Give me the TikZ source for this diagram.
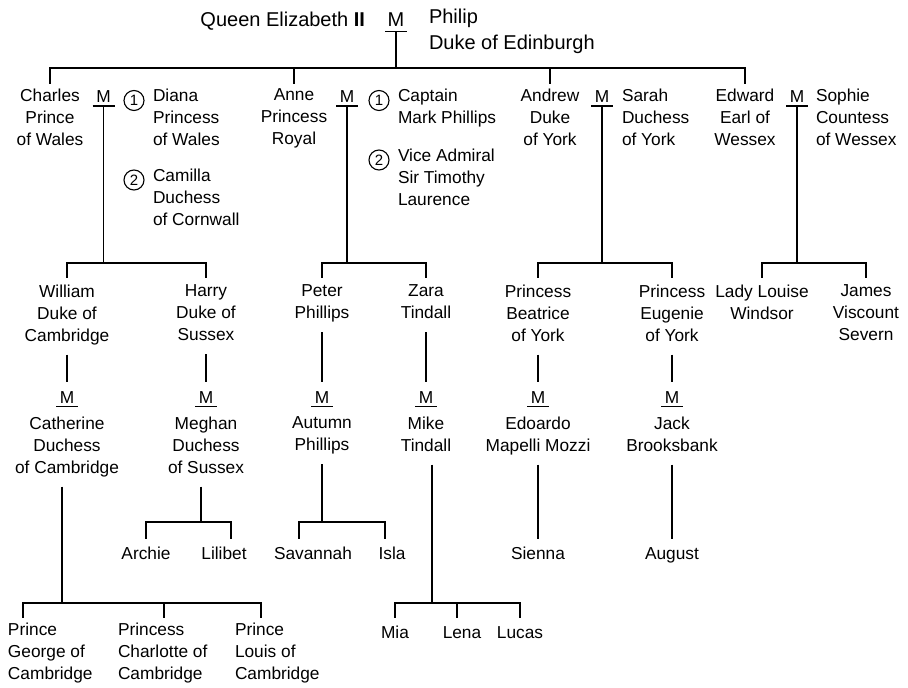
\documentclass[tikz,border=0pt]{standalone}
\usepackage{fontspec}
\setmainfont{Liberation Sans}
\begin{document}
\begin{tikzpicture}[x=1pt,y=-1pt,
  every node/.style={font=\fontsize{17.3}{22}\selectfont, inner sep=0pt, outer sep=0pt},
  topfont/.style={font=\fontsize{20}{26}\selectfont},
  person/.style={align=center, anchor=north, yshift=15.4pt, execute at begin node=\strut, execute at end node=\strut},
  lperson/.style={align=left, anchor=north west, yshift=15.4pt, execute at begin node=\strut, execute at end node=\strut},
  mnode/.style={anchor=base},
  circnum/.style={draw, circle, line width=1.1pt, minimum size=20pt, font=\fontsize{15}{15}\selectfont},
  conn/.style={line width=1.8pt},
  uline/.style={line width=1.5pt},
]
\useasboundingbox (0,0) rectangle (908,688);

% ---------- generation 1
\node[topfont, anchor=base east] (queen) at (365,27) {Queen Elizabeth \textbf{II}};
\node[topfont, mnode] (m0) at (396,27) {M};
\node[topfont, align=left, anchor=north west, yshift=18.2pt, execute at begin node=\strut] (philip) at (429,27) {Philip\\Duke of Edinburgh};

% ---------- generation 2
\node[person] (charles) at (50,104) {Charles\\Prince\\of Wales};
\node[mnode] (m1) at (103.5,102.5) {M};
\node[circnum] (c1a) at (134,100.5) {1};
\node[lperson] (diana) at (153,104) {Diana\\Princess\\of Wales};
\node[circnum] (c1b) at (134,180) {2};
\node[lperson] (camilla) at (153,184) {Camilla\\Duchess\\of Cornwall};

\node[person] (anne) at (294,104) {Anne\\Princess\\Royal};
\node[mnode] (m2) at (347,102.5) {M};
\node[circnum] (c2a) at (379,100.5) {1};
\node[lperson] (mark) at (398,104) {Captain\\Mark Phillips};
\node[circnum] (c2b) at (379,160) {2};
\node[lperson] (tim) at (398,164) {Vice Admiral\\Sir Timothy\\Laurence};

\node[person] (andrew) at (550,104) {Andrew\\Duke\\of York};
\node[mnode] (m3) at (602,102.5) {M};
\node[lperson] (sarah) at (622,104) {Sarah\\Duchess\\of York};

\node[person] (edward) at (745,104) {Edward\\Earl of\\Wessex};
\node[mnode] (m4) at (797,102.5) {M};
\node[lperson] (sophie) at (816,104) {Sophie\\Countess\\of Wessex};

% ---------- generation 3
\node[person] (william) at (67,300) {William\\Duke of\\Cambridge};
\node[person] (harry) at (206,300) {Harry\\Duke of\\Sussex};
\node[person] (peter) at (322,300) {Peter\\Phillips};
\node[person] (zara) at (426,300) {Zara\\Tindall};
\node[person] (beatrice) at (538,300) {Princess\\Beatrice\\of York};
\node[person] (eugenie) at (672,300) {Princess\\Eugenie\\of York};
\node[person] (louise) at (762,300) {Lady Louise\\Windsor};
\node[person] (james) at (866,300) {James\\Viscount\\Severn};

\node[mnode] (ma) at (67,403) {M};
\node[mnode] (mb) at (206,403) {M};
\node[mnode] (mc) at (322,403) {M};
\node[mnode] (md) at (426,403) {M};
\node[mnode] (me) at (538,403) {M};
\node[mnode] (mf) at (672,403) {M};

\node[person] (catherine) at (67,432) {Catherine\\Duchess\\of Cambridge};
\node[person] (meghan) at (206,432) {Meghan\\Duchess\\of Sussex};
\node[person] (autumn) at (322,432) {Autumn\\Phillips};
\node[person] (mike) at (426,432) {Mike\\Tindall};
\node[person] (edoardo) at (538,432) {Edoardo\\Mapelli Mozzi};
\node[person] (jack) at (672,432) {Jack\\Brooksbank};

% ---------- generation 4
\node[lperson] (george) at (8,638) {Prince\\George of\\Cambridge};
\node[lperson] (charlotte) at (118,638) {Princess\\Charlotte of\\Cambridge};
\node[lperson] (louis) at (235,638) {Prince\\Louis of\\Cambridge};
\node[person] (archie) at (146,559) {Archie};
\node[person] (lilibet) at (224,559) {Lilibet};
\node[person] (savannah) at (313,559) {Savannah};
\node[person] (isla) at (392,559) {Isla};
\node[person] (mia) at (395,638) {Mia};
\node[person] (lena) at (462,638) {Lena};
\node[person] (lucas) at (520,638) {Lucas};
\node[person] (sienna) at (538,559) {Sienna};
\node[person] (august) at (672,559) {August};

% ---------- underlines of M
\draw[uline] ([xshift=-11pt,yshift=-4.5pt]m0.base) -- ([xshift=11pt,yshift=-4.5pt]m0.base);
\foreach \m in {m1,m2,m3,m4,ma,mb,mc,md,me,mf}
  \draw[uline] ([xshift=-11pt,yshift=-3.5pt]\m.base) -- ([xshift=11pt,yshift=-3.5pt]\m.base);

% ---------- connectors gen1 -> gen2
\coordinate (j0) at (396,68);
\draw[conn] ([yshift=-4.5pt]m0.base) -- (j0);
\draw[conn] ([yshift=5pt]charles.north) -- (charles.north |- j0) -- (edward.north |- j0) -- ([yshift=5pt]edward.north);
\draw[conn] ([yshift=5pt]anne.north) -- (anne.north |- j0);
\draw[conn] ([yshift=5pt]andrew.north) -- (andrew.north |- j0);

% ---------- gen2 -> gen3
\coordinate (j1) at (103.5,263);
\coordinate (j2) at (347,263);
\coordinate (j3) at (602,263);
\coordinate (j4) at (797,263);
\draw[conn] ([yshift=-3.5pt]m1.base) -- (j1);
\draw[conn] ([yshift=-3.5pt]m2.base) -- (j2);
\draw[conn] ([yshift=-3.5pt]m3.base) -- (j3);
\draw[conn] ([yshift=-3.5pt]m4.base) -- (j4);
\draw[conn] ([yshift=7pt]william.north) -- (william.north |- j1) -- (harry.north |- j1) -- ([yshift=7pt]harry.north);
\draw[conn] ([yshift=7pt]peter.north) -- (peter.north |- j2) -- (zara.north |- j2) -- ([yshift=7pt]zara.north);
\draw[conn] ([yshift=7pt]beatrice.north) -- (beatrice.north |- j3) -- (eugenie.north |- j3) -- ([yshift=7pt]eugenie.north);
\draw[conn] ([yshift=7pt]louise.north) -- (louise.north |- j4) -- (james.north |- j4) -- ([yshift=7pt]james.north);

% ---------- gen3 -> M
\draw[conn] ([yshift=-7pt]william.south) -- ([yshift=21pt]ma.base);
\draw[conn] ([yshift=-7pt]harry.south) -- ([yshift=21pt]mb.base);
\draw[conn] ([yshift=-7pt]peter.south) -- ([yshift=21pt]mc.base);
\draw[conn] ([yshift=-7pt]zara.south) -- ([yshift=21pt]md.base);
\draw[conn] ([yshift=-7pt]beatrice.south) -- ([yshift=21pt]me.base);
\draw[conn] ([yshift=-7pt]eugenie.south) -- ([yshift=21pt]mf.base);

% ---------- spouses -> gen4
% Catherine
\coordinate (k1) at (62,603);
\coordinate (kg) at ([xshift=15pt,yshift=5pt]george.north west);
\coordinate (kc) at ([xshift=46pt,yshift=5pt]charlotte.north west);
\coordinate (kl) at ([xshift=26pt,yshift=5pt]louis.north west);
\draw[conn] ([xshift=-5pt,yshift=-7pt]catherine.south) -- (k1);
\draw[conn] (kg) -- (kg |- k1) -- (kl |- k1) -- (kl);
\draw[conn] (kc) -- (kc |- k1);
% Meghan
\coordinate (k2) at (201,522);
\coordinate (ka) at ([yshift=5pt]archie.north);
\coordinate (kb) at ([xshift=7pt,yshift=5pt]lilibet.north);
\draw[conn] ([xshift=-5pt,yshift=-7pt]meghan.south) -- (k2);
\draw[conn] (ka) -- (ka |- k2) -- (kb |- k2) -- (kb);
% Autumn
\coordinate (k3) at (322,522);
\coordinate (ks) at ([xshift=-14pt,yshift=5pt]savannah.north);
\coordinate (ki) at ([xshift=-7pt,yshift=5pt]isla.north);
\draw[conn] ([yshift=-7pt]autumn.south) -- (k3);
\draw[conn] (ks) -- (ks |- k3) -- (ki |- k3) -- (ki);
% Mike
\coordinate (k4) at (432,603);
\coordinate (km) at ([yshift=5pt]mia.north);
\coordinate (kn) at ([xshift=-5pt,yshift=5pt]lena.north);
\coordinate (ku) at ([yshift=5pt]lucas.north);
\draw[conn] ([xshift=6pt,yshift=-7pt]mike.south) -- (k4);
\draw[conn] (km) -- (km |- k4) -- (ku |- k4) -- (ku);
\draw[conn] (kn) -- (kn |- k4);
% Edoardo, Jack
\draw[conn] ([yshift=-7pt]edoardo.south) -- ([yshift=5pt]sienna.north);
\draw[conn] ([yshift=-7pt]jack.south) -- ([yshift=5pt]august.north);
\end{tikzpicture}
\end{document}
